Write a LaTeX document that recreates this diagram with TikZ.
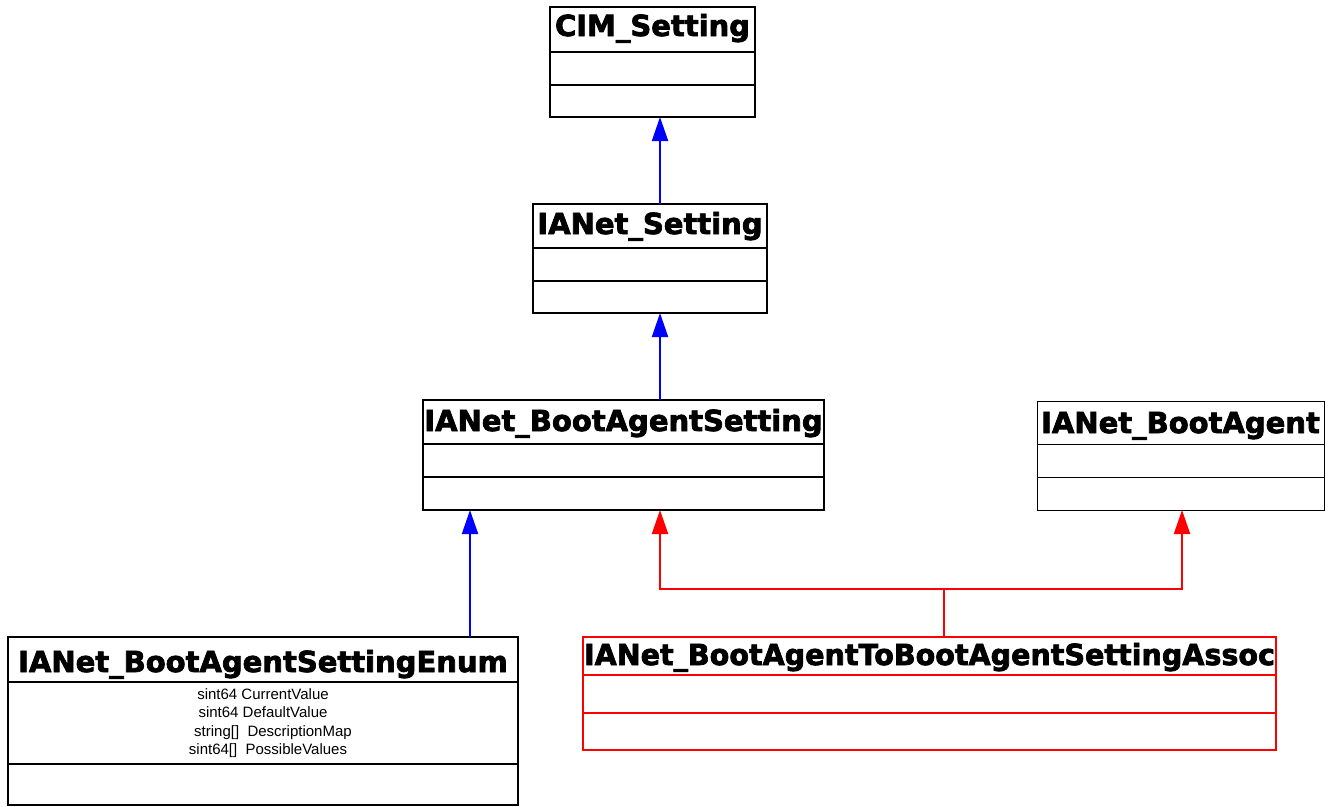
\documentclass[tikz,border=0pt]{standalone}
\usepackage{fontspec}
\usetikzlibrary{arrows.meta}
\newfontfamily\classtitlefont{DejaVu Sans}[BoldFeatures={FakeBold=2.5}]
\newfontfamily\classattrfont{Liberation Sans}

\definecolor{inhblue}{RGB}{0,0,255}
\definecolor{assocred}{RGB}{255,0,0}

\tikzset{
  classbox/.style={draw=black, line width=2pt, fill=white, inner sep=0pt, outer sep=0pt},
  thinbox/.style={draw=black, line width=1pt, fill=white, inner sep=0pt, outer sep=0pt},
  redbox/.style={draw=assocred, line width=2pt, fill=white, inner sep=0pt, outer sep=0pt},
  titletext/.style={inner sep=0pt, font=\classtitlefont\bfseries\fontsize{29}{34}\selectfont},
  attrtext/.style={inner sep=0pt, align=center, font=\classattrfont\fontsize{15}{18.5}\selectfont},
  inherit/.style={draw=inhblue, line width=2pt, -{Triangle[length=24pt,width=16pt]}},
  assocline/.style={draw=assocred, line width=2pt},
  assocarrow/.style={draw=assocred, line width=2pt, -{Triangle[length=24pt,width=16pt]}},
}

% \umlclass{name}{x1}{y1}{x2}{y2}{divider list}{title baseline}{title}{style}
\newcommand\umlclass[9]{%
  \node[#9, anchor=north west, minimum width={#4pt-#2pt}, minimum height={#5pt-#3pt}] (#1) at (#2,#3) {};
  \node[titletext, anchor=base] (#1-title) at ({(#2+#4)/2},#7) {#8};
  \foreach \dy in {#6} {\draw[#9] (#2,\dy) -- (#4,\dy);}
}

\begin{document}
\begin{tikzpicture}[x=1pt, y=-1pt]
  \useasboundingbox (0,0) rectangle (1332,806);

  \umlclass{cim}{550}{7}{755}{117}{52,85}{36}{CIM\_Setting}{classbox}
  \umlclass{ianet}{533}{204}{767}{313}{248,281}{234}{IANet\_Setting}{classbox}
  \umlclass{bas}{423}{400}{824}{510}{444,477}{431}{IANet\_BootAgentSetting}{classbox}
  \umlclass{ba}{1037}{401}{1324}{510}{444,477}{433}{IANet\_BootAgent}{thinbox}
  \umlclass{enum}{8}{637}{518}{805}{682,764}{672}{IANet\_BootAgentSettingEnum}{classbox}
  \umlclass{assoc}{583}{637}{1276}{750}{675,713}{665}{\scalebox{0.985}[1]{IANet\_BootAgentToBootAgentSettingAssoc}}{redbox}

  % attributes of the enumeration class
  \node[attrtext, anchor=center] (enum-attrs) at (263,723)
    {sint64 CurrentValue\hspace{9pt}\\
     sint64 DefaultValue\hspace{11pt}\\
     \hspace{20pt}string[]\ \ DescriptionMap\\
     \hspace{10pt}sint64[]\ \ PossibleValues};

  % inheritance
  \coordinate (xmain) at (660,0);
  \coordinate (xenum) at (470,0);
  \draw[inherit] (ianet.north -| xmain) -- (cim.south -| xmain);
  \draw[inherit] (bas.north -| xmain) -- (ianet.south -| xmain);
  \draw[inherit] (enum.north -| xenum) -- (bas.south -| xenum);

  % association references
  \coordinate (junction) at (944,589);
  \coordinate (xagent) at (1182,0);
  \draw[assocline] (assoc.north -| junction) -- (junction);
  \draw[assocarrow] (junction) -| (bas.south -| xmain);
  \draw[assocarrow] (junction) -| (ba.south -| xagent);
\end{tikzpicture}
\end{document}
